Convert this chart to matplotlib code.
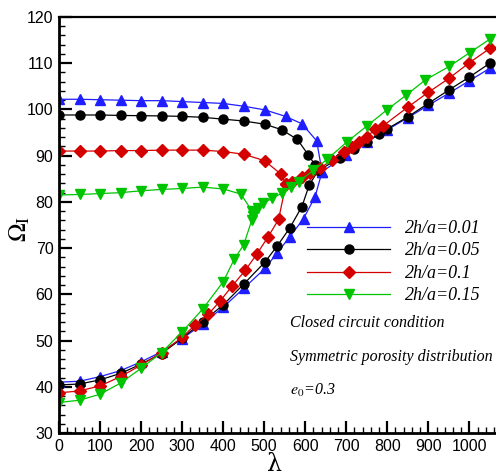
import matplotlib
matplotlib.use("Agg")
import matplotlib.pyplot as plt
from matplotlib.ticker import MultipleLocator

# lower branch (0 -> coalescence) followed by the merged branch up to 1050
blue_lam = [0, 50, 100, 150, 200, 250, 300, 350, 400, 450, 502, 531, 563, 596, 624, 641,
            700, 750, 800, 850, 900, 950, 1000, 1050]
blue_om = [41.0, 41.2, 42.2, 43.5, 45.4, 47.6, 50.4, 53.6, 57.2, 61.3, 65.6, 68.9, 72.5, 76.4, 81.1, 86.5,
           90.2, 93.0, 95.6, 98.2, 100.9, 103.5, 106.2, 108.9]
blue_up_lam = [0, 50, 100, 150, 200, 250, 300, 350, 400, 450, 502, 552, 592, 628, 641]
blue_up_om = [102.2, 102.2, 102.1, 102.0, 101.9, 101.9, 101.7, 101.5, 101.3, 100.7, 99.9, 98.5, 96.9, 93.2, 86.5]

black_lam = [0, 50, 100, 150, 200, 250, 300, 350, 400, 450, 502, 532, 562, 592, 610, 632,
             685, 720, 750, 780, 800, 850, 900, 950, 1000, 1050]
black_om = [40.4, 40.6, 41.5, 42.9, 44.9, 47.2, 50.5, 54.1, 57.7, 62.2, 67.0, 70.5, 74.3, 79.0, 83.7, 86.8,
            89.5, 91.5, 93.0, 94.7, 95.8, 98.4, 101.3, 104.2, 107.0, 110.0]
black_up_lam = [0, 50, 100, 150, 200, 250, 300, 350, 400, 450, 502, 543, 581, 608, 624, 632]
black_up_om = [98.8, 98.8, 98.8, 98.7, 98.65, 98.6, 98.5, 98.3, 97.9, 97.5, 96.8, 95.6, 93.5, 90.1, 88.0, 86.8]

red_lam = [0, 50, 100, 150, 200, 250, 300, 332, 364, 393, 421, 454, 482, 510, 535, 553,
           567, 592, 612, 637, 665, 694, 714, 732, 750, 771, 789, 850, 900, 950, 1000, 1050]
red_om = [38.7, 39.1, 40.2, 42.2, 44.7, 47.4, 50.7, 53.4, 55.7, 58.6, 61.7, 65.2, 68.7, 72.5, 76.2, 83.8,
          84.4, 85.3, 86.2, 87.3, 89.1, 90.9, 91.9, 93.0, 94.1, 95.7, 96.4, 100.5, 103.7, 106.7, 110.1, 113.2]
red_up_lam = [0, 50, 100, 150, 200, 250, 300, 350, 400, 451, 501, 541, 553]
red_up_om = [91.0, 91.0, 91.0, 91.1, 91.1, 91.2, 91.2, 91.2, 90.9, 90.3, 88.9, 86.0, 83.8]

green_lam = [0, 50, 100, 150, 200, 250, 300, 350, 400, 427, 450, 470,
             485, 498, 520, 543, 565, 584, 620, 653, 702, 750, 799, 846, 893, 951, 1001, 1050]
green_om = [36.6, 37.1, 38.4, 40.8, 44.0, 47.4, 51.9, 56.8, 62.7, 67.6, 70.7, 76.1,
            78.7, 79.7, 80.8, 81.9, 83.3, 84.4, 86.8, 89.2, 93.0, 96.4, 99.9, 103.1, 106.4, 109.3, 112.3, 115.2]
green_up_lam = [0, 50, 100, 150, 200, 250, 300, 350, 400, 443, 470, 472]
green_up_om = [81.5, 81.6, 81.8, 82.0, 82.4, 82.7, 82.9, 83.2, 82.8, 81.7, 78.1, 77.0]

labels = ["2h/a=0.01", "2h/a=0.05", "2h/a=0.1", "2h/a=0.15"]
plt.rcParams["font.family"] = ["Liberation Sans", "DejaVu Sans"]
plt.rcParams["mathtext.fontset"] = "stix"

fig = plt.figure(figsize=(4.96, 4.76), dpi=100)
ax = fig.add_axes([0.119, 0.0903, 0.881, 0.874])

series = [
    (blue_lam, blue_om, blue_up_lam, blue_up_om, "#1e1eff", "^"),
    (black_lam, black_om, black_up_lam, black_up_om, "black", "o"),
    (red_lam, red_om, red_up_lam, red_up_om, "#d40000", "D"),
    (green_lam, green_om, green_up_lam, green_up_om, "#00c400", "v"),
]
handles = []
for (lx, ly, ux, uy, col, mk), lab in zip(series, labels):
    ms = 6.0 if mk == "D" else 6.5
    h, = ax.plot(lx, ly, color=col, lw=0.9, marker=mk, ms=ms, label=lab)
    ax.plot(ux, uy, color=col, lw=0.9, marker=mk, ms=ms)
    handles.append(h)

ax.set_xlim(0, 1065)
ax.set_ylim(30, 120)
ax.xaxis.set_major_locator(MultipleLocator(100))
ax.xaxis.set_minor_locator(MultipleLocator(20))
ax.yaxis.set_major_locator(MultipleLocator(10))
ax.yaxis.set_minor_locator(MultipleLocator(2))
ax.tick_params(which="major", direction="in", length=9, width=1.6, labelsize=11.5, pad=4)
ax.tick_params(which="minor", direction="in", length=4.5, width=1.0)
ax.tick_params(top=False, right=False, which="both")
ax.spines["right"].set_visible(False)
ax.spines["left"].set_linewidth(2.0)
ax.spines["bottom"].set_linewidth(2.0)
ax.spines["top"].set_linewidth(1.6)

ax.text(0.494, -0.092, "λ", transform=ax.transAxes, ha="center", va="baseline",
        fontsize=17, family="DejaVu Serif")
ax.text(-0.09, 0.49, r"$\Omega_{\rm I}$", transform=ax.transAxes, ha="center", va="center",
        fontsize=18, rotation=90)

leg = ax.legend(handles=handles, loc="upper left", bbox_to_anchor=(0.5675, 0.512), frameon=False,
                borderpad=0, borderaxespad=0, handlelength=4.6, handletextpad=0.8, labelspacing=0.3,
                prop={"family": "Liberation Serif", "style": "italic", "size": 13})

note = {"family": "Liberation Serif", "style": "italic", "fontsize": 11.5}
ax.text(0.529, 0.265, "Closed circuit condition", transform=ax.transAxes, va="center", **note)
ax.text(0.529, 0.183, "Symmetric porosity distribution", transform=ax.transAxes, va="center", **note)
ax.text(0.529, 0.103, r"$e_0$=0.3", transform=ax.transAxes, va="center", **note)

fig.savefig("out.png", dpi=100)
